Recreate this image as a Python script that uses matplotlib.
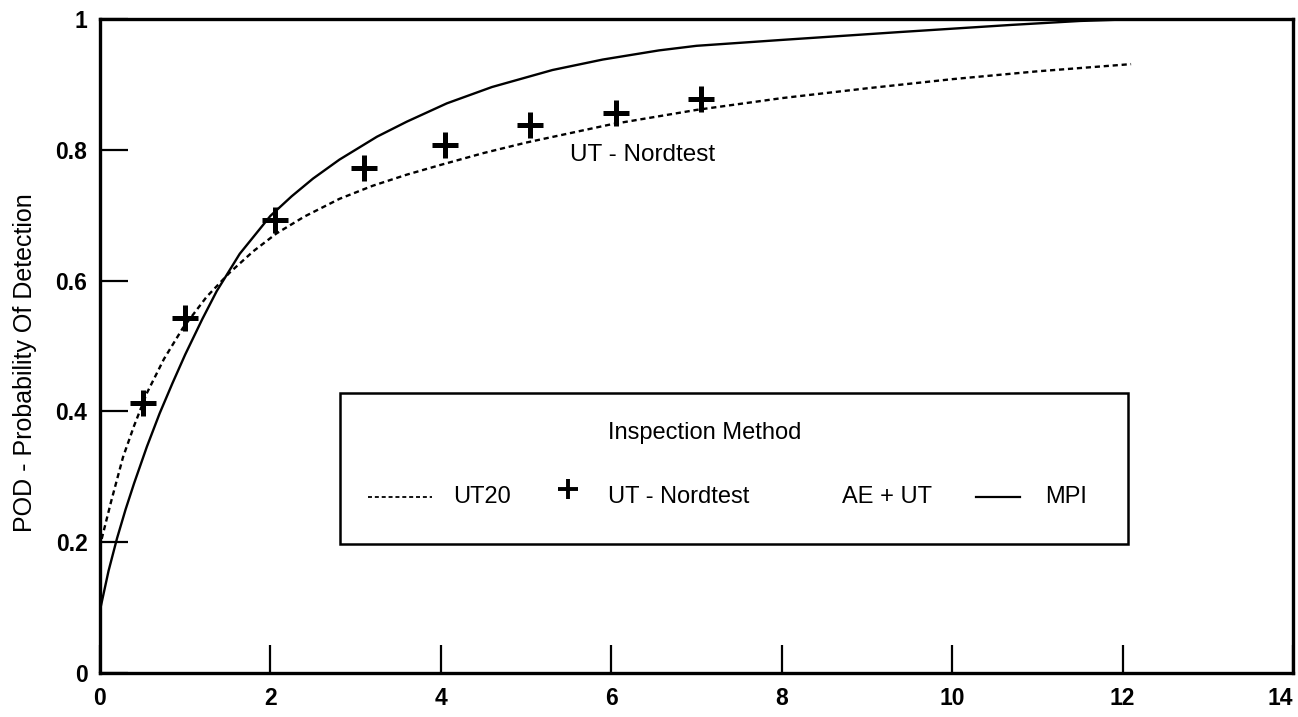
import matplotlib
matplotlib.use("Agg")
import matplotlib.pyplot as plt
from matplotlib.lines import Line2D
from matplotlib.patches import Rectangle

plt.rcParams['font.family'] = ['Liberation Sans', 'DejaVu Sans']

# MPI curve (solid)
mpi_x = [0, 0.1, 0.2, 0.3, 0.4, 0.55, 0.7, 0.85, 1.0, 1.2, 1.37, 1.64, 2.0,
         2.25, 2.5, 2.81, 3.25, 3.6, 4.07, 4.6, 5.31, 5.9, 6.56, 7.0, 8.0,
         9.38, 10.7, 11.5, 12.2]
mpi_y = [0.096, 0.156, 0.206, 0.250, 0.290, 0.346, 0.397, 0.443, 0.487,
         0.541, 0.584, 0.641, 0.699, 0.729, 0.756, 0.785, 0.820, 0.843,
         0.871, 0.896, 0.922, 0.938, 0.952, 0.959, 0.968, 0.980, 0.991,
         0.997, 1.0]

# UT20 curve (dashed)
ut20_x = [0.02, 0.13, 0.27, 0.4, 0.55, 0.75, 0.97, 1.25, 1.52, 1.8, 2.07,
          2.4, 2.81, 3.2, 3.6, 4.0, 4.5, 5.0, 6.0, 7.0, 8.0, 9.0, 10.0,
          11.0, 12.1]
ut20_y = [0.205, 0.262, 0.330, 0.378, 0.428, 0.480, 0.527, 0.575, 0.612,
          0.645, 0.672, 0.698, 0.725, 0.745, 0.762, 0.777, 0.795, 0.811,
          0.839, 0.861, 0.879, 0.894, 0.908, 0.920, 0.931]

# UT - Nordtest points
nord_x = [0.5, 1.0, 2.05, 3.1, 4.05, 5.05, 6.05, 7.05]
nord_y = [0.413, 0.543, 0.693, 0.772, 0.807, 0.838, 0.856, 0.878]

x_ticks = [0, 2, 4, 6, 8, 10, 12, 14]
y_ticks = [0, 0.2, 0.4, 0.6, 0.8, 1]
y_tick_labels = ['0', '0.2', '0.4', '0.6', '0.8', '1']

fig = plt.figure(figsize=(12.98, 7.17), dpi=100)
ax = fig.add_axes([100 / 1298, 44 / 717, 1193 / 1298, 654 / 717])

ax.plot(mpi_x, mpi_y, color='black', lw=1.7)
ax.plot(ut20_x, ut20_y, color='black', lw=1.7, dashes=(2.2, 1.6))
ax.plot(nord_x, nord_y, linestyle='none', marker='+', color='black',
        markersize=19, markeredgewidth=3.6)

ax.text(5.52, 0.792, 'UT - Nordtest', fontsize=17.5, ha='left', va='center')

ax.set_xlim(0, 14)
ax.set_ylim(0, 1)
ax.set_xticks(x_ticks)
ax.set_yticks(y_ticks)
ax.set_yticklabels(y_tick_labels)
ax.tick_params(axis='both', direction='in', length=20, width=1.6,
               labelsize=16.5)
ax.tick_params(axis='x', pad=10)
ax.tick_params(axis='y', pad=9)
for lbl in ax.get_xticklabels() + ax.get_yticklabels():
    lbl.set_fontweight('bold')
ax.get_xticklabels()[-1].set_horizontalalignment('right')
for sp in ax.spines.values():
    sp.set_linewidth(2.4)

ax.set_ylabel('POD - Probability Of Detection', fontsize=18, va='center')
ax.yaxis.set_label_coords(-0.063, 0.474)

# legend box drawn by hand
ax.add_patch(Rectangle((0.2012, 0.1972), 0.6605, 0.2309, transform=ax.transAxes,
                       fill=False, edgecolor='black', lw=1.8))
ax.text(0.507, 0.367, 'Inspection Method', transform=ax.transAxes,
        fontsize=17, ha='center', va='center')
row = 0.269
ax.add_line(Line2D([0.2246, 0.2783], [row, row], transform=ax.transAxes,
                   color='black', lw=1.3, dashes=(2.2, 1.6)))
ax.text(0.296, row, 'UT20', transform=ax.transAxes, fontsize=17,
        ha='left', va='center')
ax.add_line(Line2D([0.392], [row + 0.012], transform=ax.transAxes,
                   linestyle='none', marker='+', color='black',
                   markersize=15, markeredgewidth=2.8))
ax.text(0.426, row, 'UT - Nordtest', transform=ax.transAxes, fontsize=17,
        ha='left', va='center')
ax.text(0.622, row, 'AE + UT', transform=ax.transAxes, fontsize=17,
        ha='left', va='center')
ax.add_line(Line2D([0.734, 0.771], [row, row], transform=ax.transAxes,
                   color='black', lw=1.6))
ax.text(0.792, row, 'MPI', transform=ax.transAxes, fontsize=17,
        ha='left', va='center')

fig.savefig('out.png', dpi=100)
